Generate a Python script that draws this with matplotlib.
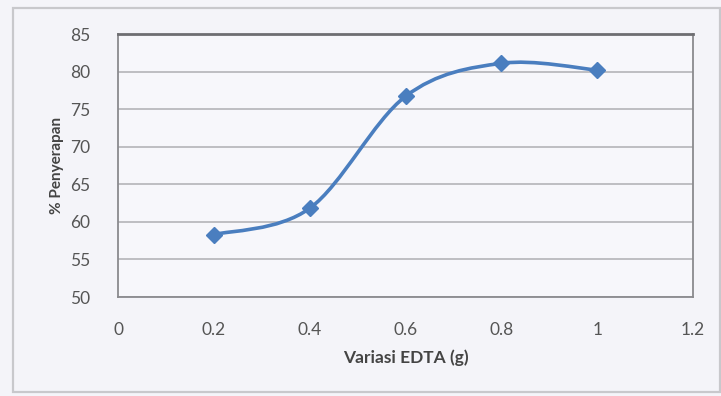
import matplotlib
matplotlib.use("Agg")
import matplotlib.pyplot as plt
from matplotlib.path import Path
from matplotlib.patches import PathPatch, Rectangle
import numpy as np

# Data
edta_g = [0.2, 0.4, 0.6, 0.8, 1.0]
penyerapan = [58.3, 61.8, 76.7, 81.1, 80.2]
x_ticks = [0, 0.2, 0.4, 0.6, 0.8, 1.0, 1.2]
x_ticklabels = ["0", "0.2", "0.4", "0.6", "0.8", "1", "1.2"]
y_ticks = [50, 55, 60, 65, 70, 75, 80, 85]
x_label = "Variasi EDTA (g)"
y_label = "% Penyerapan"

plt.rcParams['font.family'] = ['Lato', 'DejaVu Sans']

W, H = 721, 396
fig = plt.figure(figsize=(W / 100, H / 100), dpi=100)
fig.patch.set_facecolor("#f4f4f9")

# outer chart border
fig.add_artist(Rectangle((13 / W, 4 / H), (W - 14) / W, (H - 12) / H,
                         transform=fig.transFigure, fill=False,
                         edgecolor="#c8c8cc", lw=1.6))

left, right = 118 / W, 693 / W
top, bottom = 1 - 34 / H, 1 - 297 / H
ax = fig.add_axes([left, bottom, right - left, top - bottom])
ax.set_facecolor("#f7f7fb")
ax.set_xlim(0, 1.2)
ax.set_ylim(50, 85)

ax.set_xticks(x_ticks)
ax.set_xticklabels(x_ticklabels)
ax.set_yticks(y_ticks)
ax.tick_params(length=0, labelsize=12.5, colors="#555555", pad=20)
ax.tick_params(axis="x", pad=18)
ax.grid(axis="y", color="#b4b4b8", lw=1.2)
ax.set_axisbelow(True)
for s in ax.spines.values():
    s.set_color("#8a8a8e")
    s.set_linewidth(1.3)
ax.spines["top"].set_color("#6e6e72")
ax.spines["top"].set_linewidth(2.0)

ax.set_xlabel(x_label, fontsize=12.5, fontweight="bold", color="#444444", labelpad=8)
ax.set_ylabel(y_label, fontsize=11, fontweight="bold", color="#444444", labelpad=4)

# Smoothed line (Excel-style Catmull-Rom Bezier), in normalized space
xs = np.array(edta_g, dtype=float)
ys = np.array(penyerapan, dtype=float)
sx, sy = 1.2, 35.0
px, py = xs / sx, (ys - 50) / sy
verts = [(xs[0], ys[0])]
codes = [Path.MOVETO]
n = len(xs)
for i in range(n - 1):
    p0 = i - 1 if i > 0 else i
    p3 = i + 2 if i + 2 < n else i + 1
    c1x = px[i] + (px[i + 1] - px[p0]) / 6
    c1y = py[i] + (py[i + 1] - py[p0]) / 6
    c2x = px[i + 1] - (px[p3] - px[i]) / 6
    c2y = py[i + 1] - (py[p3] - py[i]) / 6
    verts += [(c1x * sx, c1y * sy + 50), (c2x * sx, c2y * sy + 50), (xs[i + 1], ys[i + 1])]
    codes += [Path.CURVE4, Path.CURVE4, Path.CURVE4]
ax.add_patch(PathPatch(Path(verts, codes), facecolor="none",
                       edgecolor="#4a7ebf", lw=2.6, capstyle="round", zorder=3))
ax.plot(xs, ys, linestyle="none", marker="D", ms=8, color="#4a7ebf", zorder=4)

fig.savefig("out.png", dpi=100, facecolor=fig.get_facecolor())
